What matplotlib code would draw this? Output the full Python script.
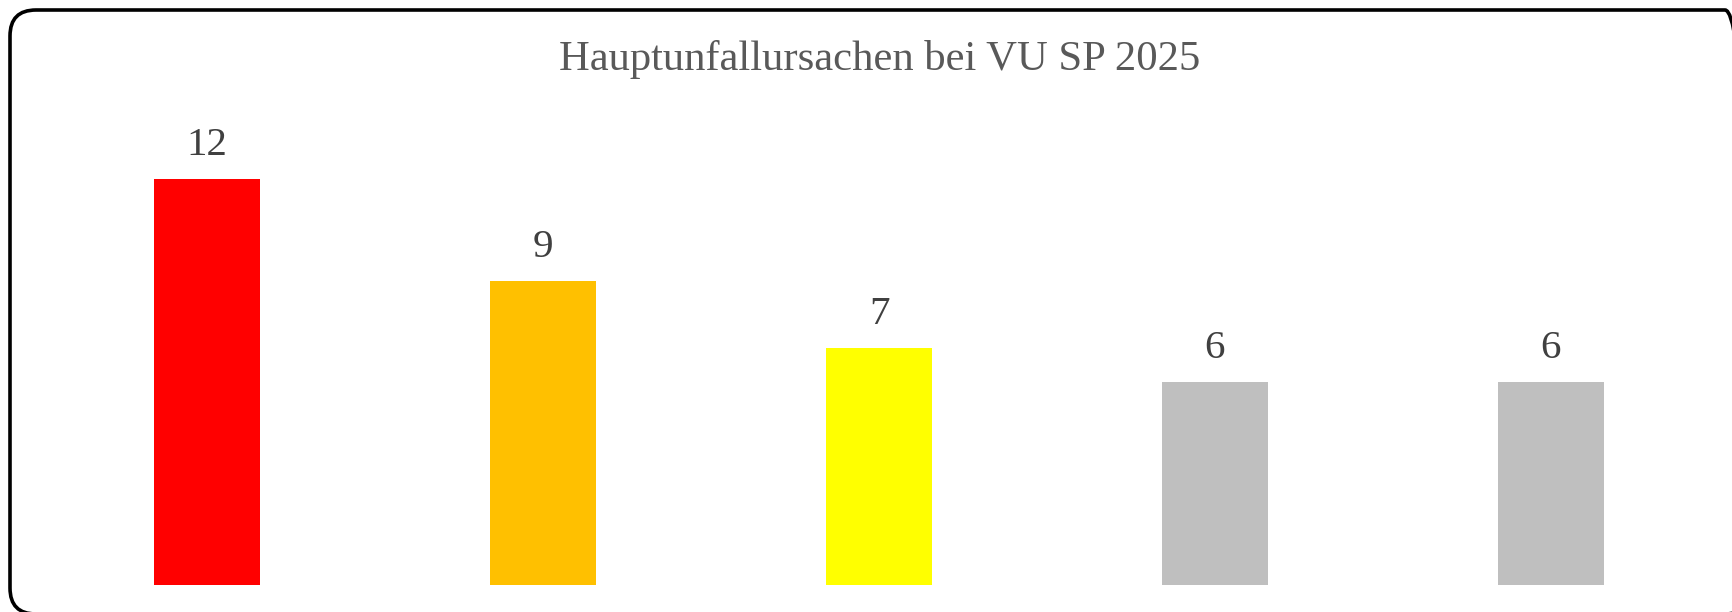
import matplotlib
matplotlib.use("Agg")
import matplotlib.pyplot as plt
from matplotlib.patches import FancyBboxPatch
from matplotlib.transforms import IdentityTransform

# Data
categories = ["Ursache 1", "Ursache 2", "Ursache 3", "Ursache 4", "Ursache 5"]
values = [12, 9, 7, 6, 6]
bar_colors = ["#FF0000", "#FFC000", "#FFFF00", "#BFBFBF", "#BFBFBF"]
title = "Hauptunfallursachen bei VU SP 2025"

W, H, DPI = 1733, 612, 100
plt.rcParams['font.family'] = ['Liberation Serif', 'DejaVu Serif']

fig = plt.figure(figsize=(W / DPI, H / DPI), dpi=DPI)
fig.patch.set_facecolor("white")

# Rounded chart border (in pixel coordinates, partly cropped at right/bottom)
left_px, top_px, right_px, bottom_px = 10, 10, 1751, 614
border = FancyBboxPatch((left_px, H - bottom_px), right_px - left_px, bottom_px - top_px,
                        boxstyle="round,pad=0,rounding_size=26",
                        transform=IdentityTransform(), facecolor="none",
                        edgecolor="black", linewidth=2.6, zorder=5)
fig.patches.append(border)

# Plot area
ax_left, ax_right = 39, 1719
ax_bottom = 585
ymax = 14
unit = 33.83
ax_top = ax_bottom - ymax * unit
ax = fig.add_axes([ax_left / W, (H - ax_bottom) / H,
                   (ax_right - ax_left) / W, (ax_bottom - ax_top) / H])
ax.set_facecolor("none")

x = list(range(len(categories)))
bars = ax.bar(x, values, width=0.315, color=bar_colors, zorder=2)
ax.set_xlim(-0.5, len(categories) - 0.5)
ax.set_ylim(0, ymax)
ax.axis("off")

for xi, v in zip(x, values):
    ax.annotate(f"{v}", (xi, v), xytext=(0, 15), textcoords="offset pixels",
                ha="center", va="bottom", fontsize=29.5, color="#404040")

fig.text(880 / W, 1 - 70 / H, title, ha="center", va="baseline",
         fontsize=30.7, color="#595959")

fig.savefig("out.png", dpi=DPI, facecolor="white")
